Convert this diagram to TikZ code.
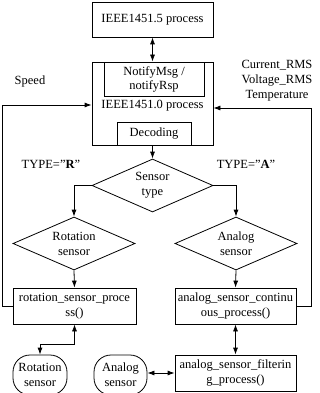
\documentclass[tikz,border=0pt]{standalone}
\usepackage{fontspec}
\setmainfont{Liberation Serif}
\usetikzlibrary{shapes.geometric,arrows.meta}
\tikzset{
  box/.style={draw, rectangle, inner sep=0pt, align=center},
  dia/.style={draw, diamond, inner sep=0pt, align=center, minimum width=121pt, minimum height=53pt},
  round/.style={draw, rectangle, rounded corners=17pt, inner sep=0pt, align=center, minimum width=54pt, minimum height=40pt},
  lbl/.style={inner sep=0pt, align=center},
  arr/.style={-{Latex[length=7pt,width=5pt]}},
  darr/.style={{Latex[length=7pt,width=5pt]}-{Latex[length=7pt,width=5pt]}}
}
\begin{document}
\begin{tikzpicture}[x=1pt, y=-1pt, line width=0.8pt,
  every node/.append style={font=\fontsize{12.5}{15}\selectfont}]
  \useasboundingbox (0,0) rectangle (320,393);

  % Obere Kaesten
  \node[box, minimum width=121pt, minimum height=35pt] (p5) at (152.5,19.5) {IEEE1451.5 process};
  \node[box, minimum width=121pt, minimum height=83pt] (p0) at (152.5,103.5) {};
  \node[box, minimum width=100pt, minimum height=34pt, font=\fontsize{12.5}{14}\selectfont] (notify) at (154,79) {NotifyMsg /\\notifyRsp};
  \node[lbl] (p0txt) at (152.5,106) {IEEE1451.0 process};
  \node[box, minimum width=74pt, minimum height=23pt] (decoding) at (154,133.5) {Decoding};

  % Entscheidungen
  \node[dia, shape aspect=2.28] (type) at (152.5,185.5) {Sensor\\type};
  \node[dia, shape aspect=2.28, minimum width=122pt] (rot) at (74,243.5) {Rotation\\sensor};
  \node[dia, shape aspect=2.28, minimum width=122pt] (ana) at (236,243.5) {Analog\\sensor};

  % Prozesse
  \node[box, minimum width=123pt, minimum height=36pt] (rotproc) at (74.5,306) {rotation\_sensor\_proce\\ss()};
  \node[box, minimum width=121pt, minimum height=36pt] (anaproc) at (235.5,306) {analog\_sensor\_continu\\ous\_process()};
  \node[box, minimum width=121pt, minimum height=36pt] (filt) at (235.5,373) {analog\_sensor\_filterin\\g\_process()};

  % Sensoren
  \node[round] (rotsensor) at (40,375) {Rotation\\sensor};
  \node[round, minimum width=53pt] (anasensor) at (120.5,375) {Analog\\sensor};

  % Beschriftungen
  \node[lbl] (speed) at (30,81) {Speed};
  \node[lbl] (values) at (277,80.5) {Current\_RMS\\Voltage\_RMS\\Temperature};
  \node[lbl] (typer) at (51,164) {TYPE=”\textbf{R}”};
  \node[lbl] (typea) at (246,164) {TYPE=”\textbf{A}”};

  % Verbindungen
  \draw[darr] (p5.south) -- (p0.north);
  \draw[arr] (p0.south) -- (type.north);
  \draw[arr] (type.west) -| (rot.north);
  \draw[arr] (type.east) -| (ana.north);
  \draw[arr] (rot.south) -- (rotproc.north);
  \draw[arr] (ana.south) -- (anaproc.north);

  % Rueckfuehrungen
  \draw[arr] (rotproc.west) -- ++(-10,0) |- ([yshift=-1.5pt]p0.west);
  \draw[arr] (anaproc.east) -- ++(15,0) |- ([yshift=-4.5pt]p0.east);

  % Sensoranbindung
  \draw[darr] (rotproc.south) -- ++(0,20) -| (rotsensor.north);
  \draw[darr] (anaproc.south) -- (filt.north);
  \draw[darr] (anasensor.east |- filt.west) -- (filt.west);
\end{tikzpicture}
\end{document}
